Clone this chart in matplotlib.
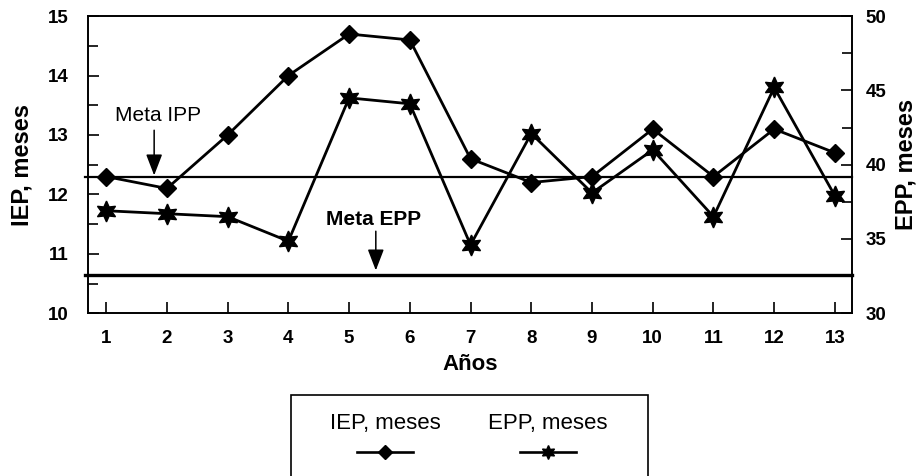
import numpy as np
import matplotlib.pyplot as plt
from matplotlib.lines import Line2D
from matplotlib.patches import Rectangle

plt.rcParams['font.family'] = ['Liberation Sans', 'DejaVu Sans']

anos = list(range(1, 14))
iep = [12.3, 12.1, 13.0, 14.0, 14.7, 14.6, 12.6, 12.2, 12.3, 13.1, 12.3, 13.1, 12.7]
epp = [36.9, 36.7, 36.5, 34.85, 44.5, 44.1, 34.6, 42.1, 38.1, 41.0, 36.5, 45.2, 37.9]
meta_ipp = 12.3
meta_epp = 32.6

fig = plt.figure(figsize=(9.22, 4.76), dpi=100)
ax = fig.add_axes([0.0954, 0.342, 0.8286, 0.624])
ax2 = ax.twinx()

estrella = (6, 1, 0)
ax.plot(anos, iep, color='black', lw=2.0, marker='D', markersize=9, zorder=3)
ax2.plot(anos, epp, color='black', lw=2.0, marker=estrella, markersize=15, zorder=3)

ax.axhline(meta_ipp, xmin=-0.004, xmax=1.0, color='black', lw=1.6, clip_on=False)
ax2.axhline(meta_epp, xmin=-0.004, xmax=1.0, color='black', lw=2.4, clip_on=False)

ax.set_xlim(0.70, 13.28)
ax.set_ylim(10, 15)
ax2.set_ylim(30, 50)
ax.set_xticks(anos)
ax.set_yticks(np.arange(10, 15.1, 1))
ax.set_yticks(np.arange(10, 15.1, 0.5), minor=True)
ax2.set_yticks(np.arange(30, 50.1, 5))
ax2.set_yticks(np.arange(30, 50.1, 2.5), minor=True)

for a in (ax, ax2):
    a.tick_params(which='both', direction='in', width=1.2, colors='black', labelsize=13.5)
    a.tick_params(which='major', length=8)
    a.tick_params(which='minor', length=7)
    for lab in a.get_xticklabels() + a.get_yticklabels():
        lab.set_fontweight('bold')
    for s in a.spines.values():
        s.set_linewidth(1.2)
ax.tick_params(axis='x', pad=12)
ax.tick_params(axis='y', pad=14)
ax2.tick_params(axis='y', pad=10)

ax.set_xlabel('Años', fontsize=16, fontweight='bold', labelpad=5)
ax.set_ylabel('IEP, meses', fontsize=17, fontweight='bold', labelpad=10)
ax2.set_ylabel('EPP, meses', fontsize=17, fontweight='bold', labelpad=6)

flecha = dict(arrowstyle='-|>,head_length=1.3,head_width=0.5', color='black', lw=1.1,
              shrinkA=0, shrinkB=0)
ax.text(1.85, 13.32, 'Meta IPP', fontsize=15, ha='center', va='center')
ax.annotate('', xy=(1.79, 12.32), xytext=(1.79, 13.08), arrowprops=flecha)
ax.text(5.4, 11.57, 'Meta EPP', fontsize=15, fontweight='bold', ha='center', va='center')
ax.annotate('', xy=(5.44, 10.72), xytext=(5.44, 11.38), arrowprops=flecha)

# leyenda: texto arriba, muestra de linea abajo
fig.patches.append(Rectangle((291 / 922, -0.05), 357 / 922, (476 - 395) / 476 + 0.05,
                             transform=fig.transFigure, fill=False, lw=1.2, ec='black'))
nombres = ['IEP, meses', 'EPP, meses']
marcas = ['D', estrella]
tam = [7, 10]
cx = [385 / 922, 548 / 922]
for nom, m, t, x in zip(nombres, marcas, tam, cx):
    fig.text(x, 1 - 423 / 476, nom, fontsize=16, ha='center', va='center')
    fig.add_artist(Line2D([x - 28 / 922, x, x + 28 / 922], [1 - 452 / 476] * 3,
                          transform=fig.transFigure, color='black', lw=1.9,
                          marker=m, markersize=t, markevery=[1], clip_on=False))

fig.savefig('out.png', dpi=100)
